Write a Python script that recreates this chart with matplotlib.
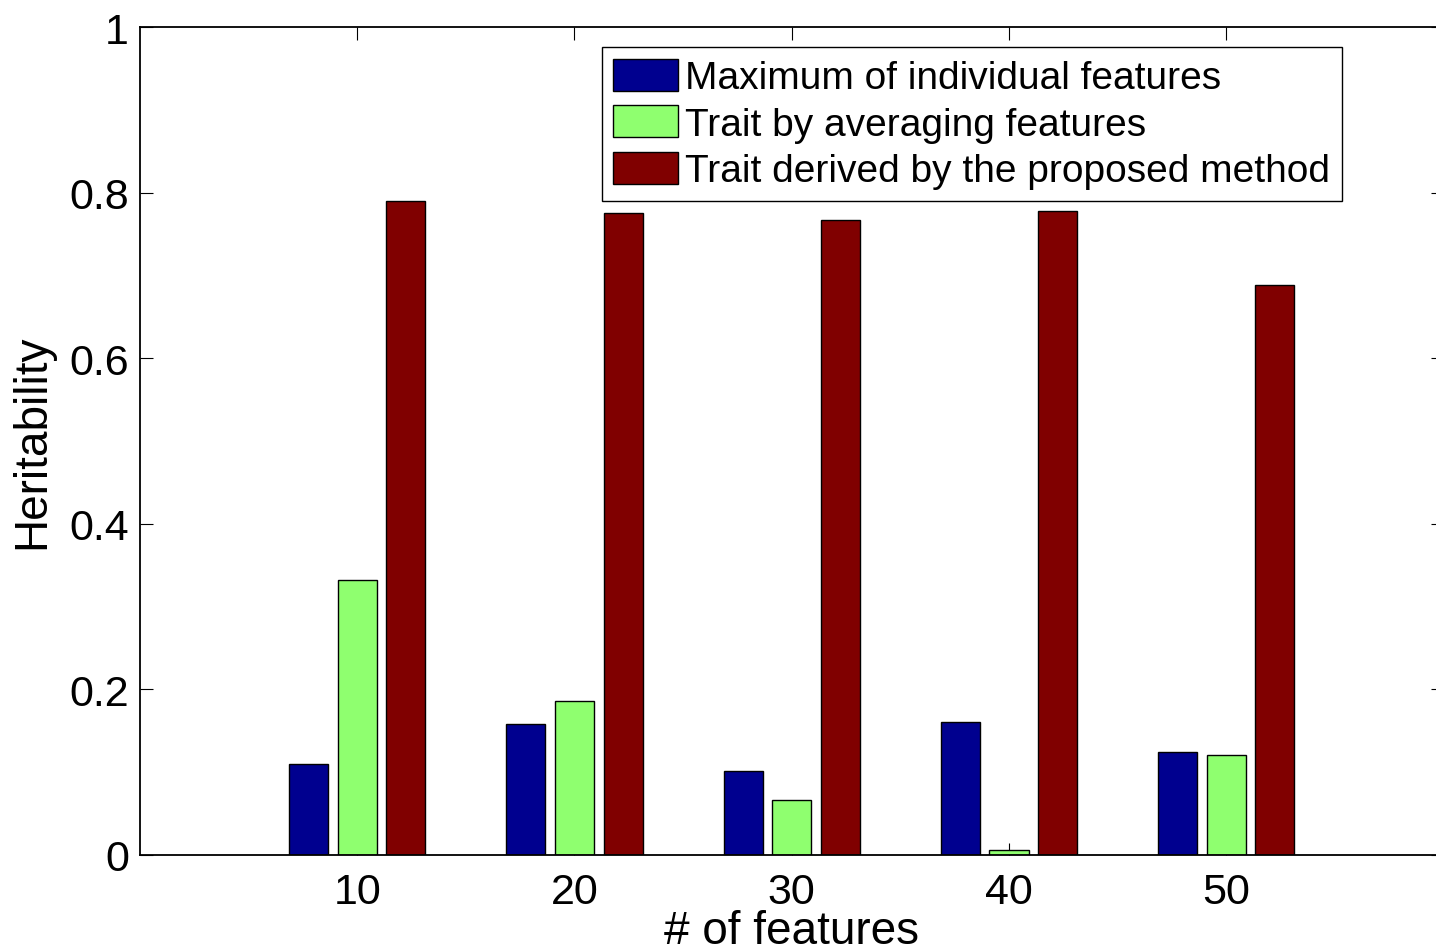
import numpy as np
import matplotlib
matplotlib.use("Agg")
import matplotlib.pyplot as plt

# data
n_features = [10, 20, 30, 40, 50]
max_individual = [0.110, 0.158, 0.101, 0.161, 0.124]
trait_averaging = [0.332, 0.186, 0.066, 0.006, 0.121]
trait_proposed = [0.790, 0.775, 0.767, 0.778, 0.688]

labels = ["Maximum of individual features",
          "Trait by averaging features",
          "Trait derived by the proposed method"]
colors = ["#00008F", "#8FFF6F", "#800000"]

plt.rcParams["font.family"] = ["Liberation Sans", "DejaVu Sans"]

fig = plt.figure(figsize=(14.36, 9.53), dpi=100)
ax = fig.add_axes([0.0975, 0.1018, 0.9077, 0.8688])
ax.set_axisbelow(True)

x = np.array(n_features, dtype=float)
offset = 2.24
width = 1.8
series = [max_individual, trait_averaging, trait_proposed]
for i, (vals, lab, col) in enumerate(zip(series, labels, colors)):
    ax.bar(x + (i - 1) * offset, vals, width, color=col, edgecolor="black",
           linewidth=1.0, label=lab)

ax.set_xlim(0, 60)
ax.set_ylim(0, 1)
ax.set_xticks(n_features)
ax.set_yticks([0, 0.2, 0.4, 0.6, 0.8, 1])
ax.set_yticklabels(["0", "0.2", "0.4", "0.6", "0.8", "1"])
ax.tick_params(direction="in", length=9, width=0.8, labelsize=31,
               top=True, right=True)
ax.tick_params(axis="x", pad=12)
ax.tick_params(axis="y", pad=8)
for s in ax.spines.values():
    s.set_linewidth(1.3)

ax.set_xlabel("# of features", fontsize=33, labelpad=-2)
ax.set_ylabel("Heritability", fontsize=33, labelpad=11)

leg = ax.legend(loc="upper right", bbox_to_anchor=(0.922, 0.976),
                borderaxespad=0, fontsize=28, fancybox=False,
                edgecolor="black", framealpha=1, handlelength=1.67,
                handleheight=0.9, handletextpad=0.18, labelspacing=0.23,
                borderpad=0.3)
leg.get_frame().set_linewidth(1.0)

fig.savefig("out.png", dpi=100)
